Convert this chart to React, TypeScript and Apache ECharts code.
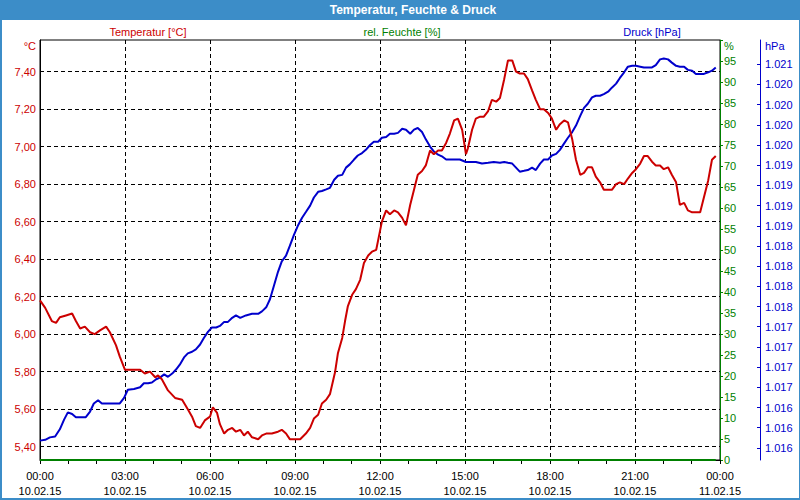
import React, { useEffect, useRef } from "react";
import * as echarts from "echarts";

// ---- Data ----
const timeLabels = ["00:00", "03:00", "06:00", "09:00", "12:00", "15:00", "18:00", "21:00", "00:00"];
const dateLabels = ["10.02.15", "10.02.15", "10.02.15", "10.02.15", "10.02.15", "10.02.15", "10.02.15", "10.02.15", "11.02.15"];

const tempTicks = [5.4, 5.6, 5.8, 6.0, 6.2, 6.4, 6.6, 6.8, 7.0, 7.2, 7.4];
const pressureTicks = [
  1015.75, 1016.0, 1016.25, 1016.5, 1016.75, 1017.0, 1017.25, 1017.5, 1017.75, 1018.0,
  1018.25, 1018.5, 1018.75, 1019.0, 1019.25, 1019.5, 1019.75, 1020.0, 1020.25, 1020.5,
];

// minutes since 10.02.15 00:00
const tempMinutes = [
  0, 11, 25, 34, 42, 55, 68, 76, 85, 95, 106, 116, 127, 140, 148, 161, 169, 180, 191, 201,
  212, 222, 233, 244, 250, 258, 271, 286, 301, 313, 322, 330, 339, 349, 360, 366, 375, 381, 390, 398,
  407, 415, 424, 432, 440, 449, 462, 470, 479, 491, 504, 512, 521, 529, 540, 551, 563, 572, 580, 589,
  597, 606, 614, 625, 631, 640, 646, 652, 661, 669, 678, 686, 695, 703, 712, 716, 724, 733, 741, 750,
  758, 767, 775, 784, 792, 800, 809, 817, 826, 834, 843, 851, 860, 868, 877, 885, 894, 902, 906, 915,
  923, 932, 940, 949, 957, 966, 974, 983, 991, 1000, 1008, 1016, 1025, 1033, 1042, 1050, 1059, 1067, 1076, 1084,
  1093, 1101, 1110, 1118, 1127, 1135, 1144, 1152, 1160, 1169, 1177, 1186, 1194, 1203, 1211, 1220, 1228, 1237, 1245, 1254,
  1262, 1271, 1279, 1287, 1296, 1304, 1313, 1321, 1330, 1338, 1347, 1355, 1364, 1372, 1381, 1389, 1398, 1406, 1415, 1423,
  1431,
];
const tempValues = [
  6.18, 6.14, 6.07, 6.06, 6.09, 6.10, 6.11, 6.07, 6.03, 6.04, 6.01, 6.00, 6.02, 6.04, 6.01, 5.94, 5.88, 5.81, 5.81, 5.81,
  5.81, 5.79, 5.80, 5.77, 5.78, 5.76, 5.70, 5.66, 5.65, 5.60, 5.56, 5.51, 5.50, 5.54, 5.56, 5.61, 5.58, 5.52, 5.47, 5.49,
  5.50, 5.48, 5.49, 5.46, 5.48, 5.45, 5.44, 5.46, 5.47, 5.47, 5.48, 5.49, 5.47, 5.44, 5.44, 5.44, 5.47, 5.50, 5.55, 5.57,
  5.63, 5.65, 5.68, 5.80, 5.90, 5.98, 6.07, 6.15, 6.21, 6.24, 6.29, 6.38, 6.42, 6.44, 6.45, 6.50, 6.60, 6.66, 6.64, 6.66,
  6.65, 6.62, 6.58, 6.69, 6.77, 6.85, 6.87, 6.90, 6.98, 6.96, 6.98, 6.98, 7.02, 7.07, 7.14, 7.15, 7.09, 6.96, 6.99, 7.09,
  7.15, 7.16, 7.16, 7.19, 7.25, 7.24, 7.26, 7.36, 7.46, 7.46, 7.40, 7.39, 7.39, 7.36, 7.30, 7.25, 7.20, 7.20, 7.18, 7.15,
  7.09, 7.12, 7.14, 7.13, 7.04, 6.93, 6.85, 6.86, 6.89, 6.89, 6.84, 6.81, 6.77, 6.77, 6.77, 6.80, 6.81, 6.80, 6.83, 6.86,
  6.88, 6.91, 6.95, 6.95, 6.92, 6.90, 6.90, 6.88, 6.89, 6.85, 6.81, 6.69, 6.70, 6.66, 6.65, 6.65, 6.65, 6.73, 6.82, 6.93,
  6.95,
];

const pressureMinutes = [
  0, 11, 21, 32, 42, 51, 59, 68, 76, 85, 97, 106, 114, 123, 131, 144, 157, 169, 178, 186,
  199, 212, 220, 229, 237, 246, 254, 263, 271, 280, 288, 296, 305, 313, 322, 330, 339, 347, 356, 364,
  373, 381, 390, 398, 407, 415, 424, 436, 449, 462, 470, 479, 487, 496, 504, 512, 521, 529, 538, 546,
  555, 563, 572, 580, 589, 597, 606, 614, 623, 631, 640, 648, 656, 665, 673, 682, 690, 699, 707, 716,
  724, 733, 741, 750, 758, 767, 775, 784, 792, 800, 809, 817, 826, 834, 843, 851, 860, 868, 881, 889,
  902, 911, 923, 936, 949, 961, 974, 983, 991, 1000, 1008, 1016, 1025, 1033, 1042, 1050, 1059, 1067, 1076, 1084,
  1093, 1101, 1110, 1118, 1127, 1135, 1144, 1152, 1160, 1169, 1177, 1186, 1194, 1203, 1211, 1220, 1228, 1237, 1245, 1254,
  1262, 1271, 1279, 1287, 1296, 1304, 1313, 1321, 1330, 1338, 1347, 1355, 1364, 1372, 1381, 1389, 1398, 1406, 1415, 1423,
  1431,
];
const pressureValues = [
  1015.84, 1015.85, 1015.88, 1015.89, 1015.98, 1016.10, 1016.19, 1016.17, 1016.13, 1016.13, 1016.13, 1016.20, 1016.30, 1016.34, 1016.30, 1016.30, 1016.30, 1016.30, 1016.37, 1016.47,
  1016.48, 1016.50, 1016.55, 1016.55, 1016.56, 1016.60, 1016.62, 1016.66, 1016.63, 1016.67, 1016.72, 1016.78, 1016.87, 1016.92, 1016.94, 1016.97, 1017.03, 1017.11, 1017.19, 1017.24,
  1017.24, 1017.26, 1017.31, 1017.31, 1017.36, 1017.39, 1017.36, 1017.39, 1017.41, 1017.41, 1017.44, 1017.49, 1017.59, 1017.77, 1017.93, 1018.06, 1018.13, 1018.25, 1018.39, 1018.50,
  1018.60, 1018.67, 1018.75, 1018.85, 1018.92, 1018.93, 1018.95, 1018.97, 1019.07, 1019.12, 1019.13, 1019.22, 1019.26, 1019.32, 1019.37, 1019.40, 1019.44, 1019.50, 1019.54, 1019.54,
  1019.59, 1019.60, 1019.64, 1019.64, 1019.65, 1019.70, 1019.69, 1019.64, 1019.69, 1019.71, 1019.66, 1019.57, 1019.48, 1019.42, 1019.38, 1019.36, 1019.32, 1019.32, 1019.32, 1019.32,
  1019.29, 1019.29, 1019.29, 1019.27, 1019.28, 1019.29, 1019.28, 1019.29, 1019.28, 1019.27, 1019.22, 1019.17, 1019.18, 1019.19, 1019.22, 1019.19, 1019.27, 1019.32, 1019.32, 1019.37,
  1019.39, 1019.44, 1019.52, 1019.59, 1019.66, 1019.74, 1019.86, 1019.96, 1020.01, 1020.09, 1020.11, 1020.11, 1020.13, 1020.16, 1020.21, 1020.26, 1020.33, 1020.40, 1020.47, 1020.48,
  1020.48, 1020.47, 1020.46, 1020.46, 1020.46, 1020.49, 1020.56, 1020.57, 1020.56, 1020.52, 1020.48, 1020.47, 1020.47, 1020.43, 1020.42, 1020.38, 1020.38, 1020.38, 1020.40, 1020.42,
  1020.46,
];

const humidityMinutes = [0, 180, 360, 540, 720, 900, 1080, 1260, 1431];
const humidityValues = [0, 0, 0, 0, 0, 0, 0, 0, 0];

const RED = "#cc0000";
const GREEN = "#008000";
const BLUE = "#0000cc";
const FRAME = "#3c8dc8";
const FONT = "Liberation Sans";

const zip = (xs: number[], ys: number[]) => xs.map((x, i) => [x, ys[i]]);

export default function App() {
  const ref = useRef<HTMLDivElement>(null);

  useEffect(() => {
    if (!ref.current) return;
    const chart = echarts.init(ref.current, undefined, { renderer: "svg" });
    const dash = [4, 3];
    chart.setOption({
      animation: false,
      backgroundColor: FRAME,
      textStyle: { fontFamily: FONT, fontSize: 11 },
      grid: { left: 40, right: 80, top: 40, bottom: 40, show: true, borderColor: "#000", borderWidth: 1, backgroundColor: "transparent" },
      graphic: [
        { type: "rect", z: -100, shape: { x: 2, y: 20, width: 797, height: 478 }, style: { fill: "#ffffff" } },
        {
          type: "text", x: 413, y: 10,
          style: { text: "Temperatur, Feuchte & Druck", fill: "#ffffff", fontFamily: FONT, fontSize: 12, fontWeight: "bold", align: "center", verticalAlign: "middle" },
        },
        { type: "text", x: 148, y: 32, style: { text: "Temperatur [°C]", fill: RED, fontFamily: FONT, fontSize: 11, align: "center", verticalAlign: "middle" } },
        { type: "text", x: 402, y: 32, style: { text: "rel. Feuchte [%]", fill: GREEN, fontFamily: FONT, fontSize: 11, align: "center", verticalAlign: "middle" } },
        { type: "text", x: 652, y: 32, style: { text: "Druck [hPa]", fill: BLUE, fontFamily: FONT, fontSize: 11, align: "center", verticalAlign: "middle" } },
      ],
      xAxis: {
        type: "value",
        min: 0,
        max: 1440,
        interval: 180,
        axisLine: { show: true, lineStyle: { color: "#000", width: 1 } },
        axisTick: { show: true, length: 4, lineStyle: { color: "#000" } },
        minorTick: { show: true, splitNumber: 3, length: 4, lineStyle: { color: "#000" } },
        splitLine: { show: true, lineStyle: { color: "#000", type: dash, width: 1 } },
        axisLabel: {
          color: "#000",
          fontFamily: FONT,
          fontSize: 11,
          lineHeight: 15,
          margin: 8,
          showMaxLabel: true,
          formatter: (v: number) => {
            const i = Math.round(v / 180);
            return `${timeLabels[i]}\n${dateLabels[i]}`;
          },
        },
      },
      yAxis: [
        {
          type: "value",
          position: "left",
          min: 5.3289,
          max: 7.5689,
          name: "°C",
          nameLocation: "end",
          nameGap: -6,
          nameTextStyle: { color: RED, fontFamily: FONT, fontSize: 11, align: "right", verticalAlign: "middle", padding: [0, 4, 0, 0] },
          axisLine: { show: true, lineStyle: { color: "#000", width: 1 } },
          axisTick: { show: false, customValues: tempTicks },
          axisLabel: {
            customValues: tempTicks,
            color: RED,
            fontFamily: FONT,
            fontSize: 11,
            margin: 4,
            formatter: (v: number) => v.toFixed(2).replace(".", ","),
          },
          splitLine: { show: true, lineStyle: { color: "#000", type: dash, width: 1 } },
        },
        {
          type: "value",
          position: "right",
          min: 0,
          max: 100,
          interval: 5,
          name: "%",
          nameLocation: "end",
          nameGap: -6,
          nameTextStyle: { color: GREEN, fontFamily: FONT, fontSize: 11, align: "left", verticalAlign: "middle", padding: [0, 0, 0, 4] },
          axisLine: { show: true, lineStyle: { color: GREEN, width: 1 } },
          axisTick: { show: true, length: 3, lineStyle: { color: GREEN } },
          axisLabel: {
            color: GREEN,
            fontFamily: FONT,
            fontSize: 11,
            margin: 4,
            formatter: (v: number) => (v >= 100 ? "" : String(v)),
          },
          splitLine: { show: false },
        },
        {
          type: "value",
          position: "right",
          offset: 40,
          min: 1015.6,
          max: 1020.8,
          name: "hPa",
          nameLocation: "end",
          nameGap: -6,
          nameTextStyle: { color: BLUE, fontFamily: FONT, fontSize: 11, align: "left", verticalAlign: "middle", padding: [0, 0, 0, 5] },
          axisLine: { show: true, lineStyle: { color: BLUE, width: 1 } },
          axisTick: { show: true, inside: true, length: 3, customValues: pressureTicks, lineStyle: { color: BLUE } },
          axisLabel: {
            customValues: pressureTicks,
            color: BLUE,
            fontFamily: FONT,
            fontSize: 11,
            margin: 5,
            formatter: (v: number) => {
              const r = Math.round(v);
              return `${Math.floor(r / 1000)}.${String(r % 1000).padStart(3, "0")}`;
            },
          },
          splitLine: { show: false },
        },
      ],
      series: [
        {
          name: "rel. Feuchte [%]",
          type: "line",
          yAxisIndex: 1,
          data: zip(humidityMinutes, humidityValues),
          showSymbol: false,
          symbol: "none",
          lineStyle: { color: GREEN, width: 2 },
          itemStyle: { color: GREEN },
        },
        {
          name: "Druck [hPa]",
          type: "line",
          yAxisIndex: 2,
          data: zip(pressureMinutes, pressureValues),
          showSymbol: false,
          symbol: "none",
          lineStyle: { color: BLUE, width: 2 },
          itemStyle: { color: BLUE },
        },
        {
          name: "Temperatur [°C]",
          type: "line",
          yAxisIndex: 0,
          data: zip(tempMinutes, tempValues),
          showSymbol: false,
          symbol: "none",
          lineStyle: { color: RED, width: 2 },
          itemStyle: { color: RED },
        },
      ],
    });
    return () => chart.dispose();
  }, []);

  return <div ref={ref} style={{ position: "absolute", left: 0, top: 0, width: 800, height: 500 }} />;
}
